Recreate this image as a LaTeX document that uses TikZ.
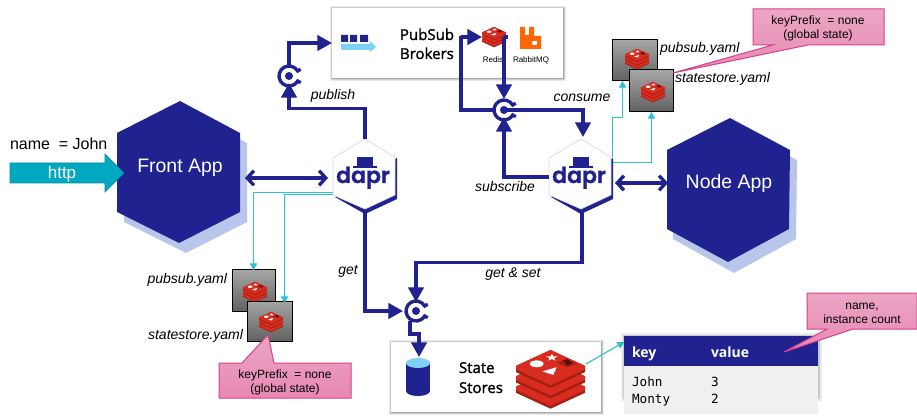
\documentclass[tikz,border=0pt]{standalone}
\usepackage{fontspec}
\setmainfont{Liberation Sans}
\newfontfamily\semifont[FakeBold=1.6]{Open Sans}
\newfontfamily\tablefont{Open Sans}
\newfontfamily\codefont{DejaVu Sans Mono}
\newfontfamily\daprfont[FakeBold=1.2]{Poppins SemiBold}
\usetikzlibrary{arrows.meta}
\definecolor{navy}{HTML}{20228F}
\definecolor{paleblue}{HTML}{B8C6EC}
\definecolor{thincyan}{HTML}{2FBFD6}
\definecolor{httpcyan}{HTML}{00A8C0}
\definecolor{skyblue}{HTML}{7FD0F5}
\definecolor{pinkline}{HTML}{D8408F}
\definecolor{pinktop}{HTML}{EBA6C3}
\definecolor{pinkbottom}{HTML}{E888B2}
\definecolor{redisbright}{HTML}{D82C20}
\definecolor{redisdark}{HTML}{A41E11}
\newcommand{\fs}[1]{\fontsize{#1}{#1}\selectfont}
\tikzset{
  x=0.75pt,y=-0.75pt,
  txt/.style={inner sep=0pt,outer sep=0pt,anchor=base},
  ital/.style={txt,font=\fs{10.5}\itshape},
  flow/.style={draw=navy,line width=2.5pt,-{Triangle[length=11pt,width=11.5pt]}},
  plainflow/.style={draw=navy,line width=2.5pt},
  both/.style={draw=navy,line width=2.5pt,{Straight Barb[length=5pt,width=11pt]}-{Straight Barb[length=5pt,width=11pt]}},
  thin link/.style={draw=thincyan,line width=0.85pt,-{Triangle[length=5pt,width=5.5pt]},color=thincyan},
  ringnode/.style={circle,minimum size=16.5pt,inner sep=0pt,outer sep=0pt},
  daprnode/.style={rectangle,minimum width=48.75pt,minimum height=56pt,inner sep=0pt,outer sep=0pt},
  yamlbox/.style={draw=black,line width=0.75pt,top color=black!35,bottom color=black!62},
  callout/.style={draw=pinkline,line width=0.75pt,top color=pinktop,bottom color=pinkbottom},
}
\newcommand{\softshadow}[4]{%
  \fill[black,opacity=.08] (#1-2,#2-2) rectangle (#3+3,#4+3);
  \fill[black,opacity=.12] (#1-1,#2-1) rectangle (#3+2,#4+2);
  \fill[black,opacity=.18] (#1,#2) rectangle (#3+1,#4+1);
  \fill[white] (#1,#2) rectangle (#3,#4);}
\newcommand{\redisicon}[3]{%
  \begin{scope}[shift={(#1,#2)},scale=#3]
    \foreach \c in {11,-4,-19}{
      \fill[redisdark] (-50,\c) -- (-50,\c+9) -- (0,\c+32) -- (50,\c+9) -- (50,\c) -- (0,\c-23) -- cycle;
      \fill[redisbright] (-50,\c) -- (-50,\c+5) -- (0,\c+28) -- (50,\c+5) -- (50,\c) -- (0,\c-23) -- cycle;
    }
    \fill[white] (-20,-22) ellipse[x radius=10,y radius=5];
    \fill[white,shift={(2,-31)}] (0,-5.4) -- (2.06,-1.7) -- (8.6,-1.7) -- (3.33,.65) -- (5.3,4.4) -- (0,2.1) -- (-5.3,4.4) -- (-3.33,.65) -- (-8.6,-1.7) -- (-2.06,-1.7) -- cycle;
    \fill[white] (-12,-11) -- (9,-17) -- (4,-6) -- cycle;
    \fill[redisdark] (9,-24) -- (24,-29) -- (38,-22) -- (24,-17) -- cycle;
    \fill[black!50!redisdark] (18,-27) -- (24,-29) -- (32,-23) -- (24,-20) -- cycle;
  \end{scope}}
\newcommand{\daprhex}[2]{%
  \begin{scope}[shift={(#1,0)}]
    \fill[navy] (32,158) -- (32,199) -- (0,214) -- (-30,197) -- (0,175) -- cycle;
    \fill[white,draw=black!15,line width=.5pt] (0,139) -- (30,157) -- (30,195) -- (0,209) -- (-32,195) -- (-32,158) -- cycle;
    \fill[navy] (-12,166) rectangle (12,168.5);
    \fill[navy] (-8,157) rectangle (8,166.5);
    \node[txt,text=navy,font=\daprfont\fs{16.5}] (#2) at (-2,183) {dapr};
  \end{scope}}
\newcommand{\ringicon}[1]{%
  \draw[navy,line width=2.5pt] ([shift={(-30:13.5)}]#1.center) -- ([shift={(-30:10)}]#1.center) arc[start angle=-30,end angle=-330,radius=10] -- ([shift={(30:13.5)}]#1.center);
  \fill[navy] (#1.center) circle[radius=4];}
\begin{document}
\begin{tikzpicture}
\useasboundingbox (0,0) rectangle (917,420);
\fill[white] (0,0) rectangle (917,420);
% invisible anchors
\node[ringnode] (ringa) at (289,76) {};
\node[ringnode] (ringb) at (504,110) {};
\node[ringnode] (ringc) at (416,311) {};
\node[daprnode] (dapra) at (365,176) {};
\node[daprnode] (daprb) at (582,176) {};
\coordinate (frontport) at (245,178);
\coordinate (daprainport) at (328,178);
\coordinate (daprbport) at (615,183);
\coordinate (nodeport) at (668,183);
\coordinate (queueport) at (332,43);
\coordinate (redisin) at (482,37);
\coordinate (redisout) at (508,37);
\coordinate (ringcout) at (410,321);
\coordinate (cylin) at (419,357);
\coordinate (ringcleft) at (403,311);
\coordinate (daprbleft) at (549,177);
\coordinate (redisbig) at (586,364);
\coordinate (tablecorner) at (624,342);
\coordinate (consumein) at (583,137);
% apps
\fill[paleblue] (187,111) -- (247,143) -- (247,222) -- (186,253) -- (124,222) -- (124,143) -- cycle;
\fill[navy] (180,101) -- (240,133) -- (240,212) -- (179,243) -- (117,212) -- (117,133) -- cycle;
\node[txt,text=white,font=\fs{14.6}] (fronttext) at (180,173) {Front App};
\fill[paleblue] (737,128) -- (797,160) -- (796,239) -- (734,273) -- (673,239) -- (673,160) -- cycle;
\fill[navy] (730,118) -- (790,150) -- (789,229) -- (728,262) -- (667,229) -- (667,150) -- cycle;
\node[txt,text=white,font=\fs{14.6}] (nodetext) at (729,189) {Node App};
% http
\fill[httpcyan,draw=httpcyan!85!black,line width=.5pt] (10,163) -- (105,163) -- (105,154) -- (124,173) -- (105,192) -- (105,183) -- (10,183) -- cycle;
\node[txt,text=white,font=\fs{12.75}] (httptext) at (62,179) {http};
\node[txt,anchor=base west,font=\fs{12}] (nametext) at (10,150) {name\ \ = John};
% boxes
\softshadow{332}{8}{563}{78}
\softshadow{391}{342}{601}{412}
% queue icon
\fill[navy] (341,35) rectangle (348,42) (350,35) rectangle (357,42) (360,35) rectangle (368,42);
\fill[skyblue] (341,44) -- (370,44) -- (370,41) -- (376,47) -- (370,52) -- (370,50) -- (341,50) -- cycle;
\node[txt,anchor=base west,font=\semifont\fs{11.25}] (pubsubtext) at (400,40) {PubSub};
\node[txt,anchor=base west,font=\semifont\fs{11.25}] (brokerstext) at (400,59) {Brokers};
\redisicon{494}{37}{.24}
\node[txt,font=\fs{6}] (redislabel) at (493,63) {Redis};
\fill[orange!80!red,even odd rule] (520,27) -- (525,27) -- (525,35) -- (529,35) -- (529,27) -- (534,27) -- (534,36) -- (541,36) -- (541,49) -- (520,49) -- cycle (532,41) rectangle (537,45);
\node[txt,font=\fs{6}] (rabbitlabel) at (531,63) {RabbitMQ};
% state store
\fill[navy] (406,363) rectangle (430,391);
\fill[navy] (418,391) ellipse[x radius=12,y radius=5];
\fill[skyblue] (418,363) ellipse[x radius=12,y radius=5];
\node[txt,anchor=base west,font=\semifont\fs{11.25}] (statetext) at (459,373) {State};
\node[txt,anchor=base west,font=\semifont\fs{11.25}] (storestext) at (459,393) {Stores};
\redisicon{550.5}{379}{.69}
% dapr hexes
\daprhex{365}{daprlogoa}
\daprhex{581}{daprlogob}
% rings first, so that the arrow tips lie on them
\ringicon{ringa}
\ringicon{ringb}
\ringicon{ringc}
% connectors
\path[flow] (dapra.north) -- ++(0,-30) -| ([yshift=-5.25pt]ringa.center);
\path[flow] (ringa.north) |- (queueport);
\path[plainflow] (ringb.west) -| (461,36) -- (461,37) -- (470,37);
\path[flow] (461,37) -- (redisin);
\path[plainflow] (redisout) -- (504,37);
\path[flow] (504,37) -- (ringb.north);
\path[flow] (ringb.center) -| (consumein);
\path[flow] (daprbleft) -| (504,117);
\path[plainflow] (dapra.south) |- (389,311);
\path[flow] (389,311) -- (ringcleft);
\path[flow] (daprb.south) -- ++(0,49) -| (416,302);
\path[flow] (ringcout) |- (419,334) -- (cylin);
\path[both] (frontport) -- (daprainport);
\path[both] (daprbport) -- (nodeport);
% labels
\node[ital] (lpublish) at (333,100) {publish};
\node[ital] (lconsume) at (582,102) {consume};
\node[ital] (lsubscribe) at (505,192) {subscribe};
\node[ital] (lget) at (348,275) {get};
\node[ital] (lgetset) at (513,277) {get \& set};
% yaml left
\draw[yamlbox] (232,270) rectangle (275,311);
\redisicon{255}{292}{.24}
\draw[yamlbox] (247,301) rectangle (292,341);
\redisicon{271}{322}{.24}
\node[ital,anchor=base east] (lpubl) at (227,283) {pubsub.yaml};
\node[ital,anchor=base east] (lstatel) at (243,339) {statestore.yaml};
% yaml right
\draw[yamlbox] (612,40) rectangle (657,81);
\redisicon{637}{59}{.24}
\draw[yamlbox] (629,70) rectangle (673,112);
\redisicon{653}{92}{.24}
\node[ital,anchor=base west] (lpubr) at (660,53) {pubsub.yaml};
\node[ital,anchor=base west] (lstater) at (675,83) {statestore.yaml};
% cyan links
\path[thin link] (333,192.5) -| (253.5,270);
\path[thin link] (333,194.5) -| (284.5,303);
\path[thin link] (612.5,157) |- (622.5,117.5) -- (622.5,81);
\path[thin link] (613,162.5) -| (651.5,112);
\path[thin link] (redisbig) -- (tablecorner);
% table
\fill[black,opacity=.08] (621,333) rectangle (822,401);
\fill[black,opacity=.14] (623,335) rectangle (820,399);
\fill[black!6] (624,366) rectangle (818,414);
\fill[navy] (624,336) rectangle (818,366);
\node[txt,anchor=base west,text=white,font=\tablefont\bfseries\fs{10.5}] (tkey) at (632,357) {key};
\node[txt,anchor=base west,text=white,font=\tablefont\bfseries\fs{10.5}] (tvalue) at (711,357) {value};
\node[txt,anchor=base west,font=\codefont\fs{9.5}] (tjohn) at (632,386) {John};
\node[txt,anchor=base west,font=\codefont\fs{9.5}] (tthree) at (711,386) {3};
\node[txt,anchor=base west,font=\codefont\fs{9.5}] (tmonty) at (632,403) {Monty};
\node[txt,anchor=base west,font=\codefont\fs{9.5}] (ttwo) at (711,403) {2};
% callouts
\path[callout] (219,363) -- (242,363) -- (268,335) -- (274,363) -- (351,363) -- (351,398) -- (219,398) -- cycle;
\node[txt,font=\fs{9}] (cla) at (285,378) {keyPrefix\ \ = none};
\node[txt,font=\fs{9}] (clb) at (285,392) {(global state)};
\path[callout] (753,9) -- (884,9) -- (884,45) -- (808,45) -- (673,73) -- (773,45) -- (753,45) -- cycle;
\node[txt,font=\fs{9}] (cra) at (818,25) {keyPrefix\ \ = none};
\node[txt,font=\fs{9}] (crb) at (818,39) {(global state)};
\path[callout] (807,293) -- (917,293) -- (917,329) -- (853,329) -- (784,352) -- (827,329) -- (807,329) -- cycle;
\node[txt,font=\fs{9}] (cba) at (862,309) {name,};
\node[txt,font=\fs{9}] (cbb) at (862,323) {instance count};
\end{tikzpicture}
\end{document}
